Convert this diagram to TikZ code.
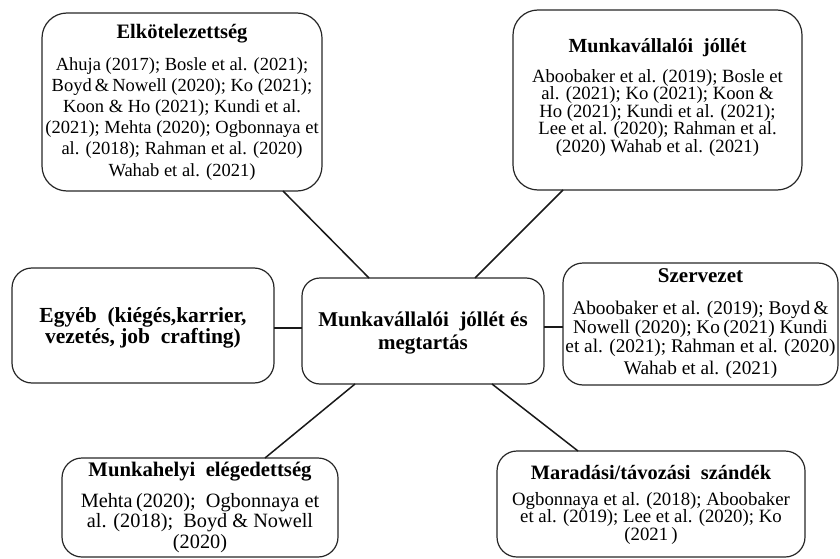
\documentclass[tikz,border=0pt]{standalone}
\usepackage{fontspec}
\setmainfont{Liberation Serif}
\begin{document}
\begin{tikzpicture}[x=1pt,y=-1pt,
  box/.style={draw=black!85,line width=1.2pt,rounded corners=20pt,inner sep=0pt,outer sep=0pt},
  link/.style={draw=black!90,line width=1.5pt},
  ttl/.style={anchor=base,inner sep=0pt,font=\bfseries\fontsize{20.5}{20}\selectfont},
  refs/.style={anchor=base,inner sep=0pt,align=center},
]
\useasboundingbox (0,0) rectangle (840,559);
% boxes
\node[box,rounded corners=25pt,minimum width=280pt,minimum height=178pt] (b1) at (182,102) {};
\node[box,rounded corners=25pt,minimum width=289pt,minimum height=180pt] (b2) at (657.5,100) {};
\node[box,minimum width=262pt,minimum height=115pt] (eg) at (143,325.5) {};
\node[box,rounded corners=18pt,minimum width=242pt,minimum height=106pt] (ctr) at (423,331) {};
\node[box,minimum width=275pt,minimum height=122pt] (sz) at (700.5,324) {};
\node[box,minimum width=276pt,minimum height=99pt] (mh) at (200,507.5) {};
\node[box,minimum width=308pt,minimum height=106pt] (md) at (651,504) {};
% texts (refs nodes are anchored at the baseline of their last line)
\node[ttl] (t1) at (182,39) {Elkötelezettség};
\node[refs,font=\fontsize{18.5}{21.2}\selectfont] (r1) at (182,176) {Ahuja (2017); Bosle et al. (2021);\\Boyd\,\&\,Nowell (2020); Ko (2021);\\Koon \& Ho (2021); Kundi et al.\\(2021); Mehta (2020); Ogbonnaya et\\al. (2018); Rahman et al. (2020)\\Wahab et al. (2021)};
\node[ttl,font=\bfseries\fontsize{20}{20}\selectfont] (t2) at (657.5,53) {Munkavállalói\ \ jóllét};
\node[refs,font=\fontsize{18.7}{17.5}\selectfont] (r2) at (657.5,152) {Aboobaker et al. (2019); Bosle et\\al. (2021); Ko (2021); Koon \&\\Ho (2021); Kundi et al. (2021);\\Lee et al. (2020); Rahman et al.\\(2020) Wahab et al. (2021)};
\node[refs,font=\bfseries\fontsize{21.5}{19}\selectfont] (te) at (143,343) {Egyéb\ \ (kiégés,karrier,\\vezetés,\ job\ \ crafting)};
\node[refs,font=\bfseries\fontsize{21}{23}\selectfont] (tc) at (423,349) {Munkavállalói\ \ jóllét és\\megtartás};
\node[ttl,font=\bfseries\fontsize{21}{20}\selectfont] (ts) at (700.5,282) {Szervezet};
\node[refs,font=\fontsize{19.3}{17.2}\selectfont] (rs) at (700.5,374) {Aboobaker et al. (2019); Boyd\,\&\\Nowell (2020); Ko\,(2021) Kundi\\et al. (2021); Rahman et al. (2020)\\[3.5pt]Wahab et al. (2021)};
\node[ttl,font=\bfseries\fontsize{20.7}{20}\selectfont] (tm) at (200,476) {Munkahelyi\ \ elégedettség};
\node[refs,font=\fontsize{20.3}{20.5}\selectfont] (rm) at (200,548) {Mehta\,(2020);\ \ Ogbonnaya et\\al. (2018);\ \ Boyd \& Nowell\\(2020)};
\node[ttl,font=\bfseries\fontsize{20.4}{20}\selectfont] (td) at (651,479) {Maradási/távozási\ \ szándék};
\node[refs,font=\fontsize{18.8}{17.5}\selectfont] (rd) at (651,540) {Ogbonnaya et al. (2018); Aboobaker\\et al. (2019); Lee et al. (2020); Ko\\(2021\,)};
% connectors
\draw[link] ([xshift=241pt]b1.south west) -- ([xshift=67pt]ctr.north west);
\draw[link] ([xshift=50pt]b2.south west) -- ([xshift=173pt]ctr.north west);
\draw[link] ([yshift=-2.5pt]eg.east) -- ([yshift=-2.5pt]eg.east -| ctr.west);
\draw[link] ([yshift=4pt]ctr.east) -- ([yshift=4pt]ctr.east -| sz.west);
\draw[link] ([xshift=53pt]ctr.south west) -- ([xshift=203pt]mh.north west);
\draw[link] ([xshift=190pt]ctr.south west) -- ([xshift=81pt]md.north west);
\end{tikzpicture}
\end{document}
